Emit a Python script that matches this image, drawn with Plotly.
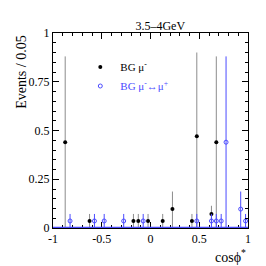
import plotly.graph_objects as go

# BG mu- (black)
bk_x = [-0.875, -0.625, -0.175, -0.125, -0.025, 0.125, 0.225, 0.425, 0.475, 0.625, 0.675]
bk_y = [0.44, 0.036, 0.036, 0.036, 0.036, 0.036, 0.097, 0.036, 0.47, 0.072, 0.44]
bk_eu = [0.44, 0.036, 0.036, 0.036, 0.036, 0.036, 0.09, 0.036, 0.43, 0.042, 0.44]
bk_ed = [0.44, 0.036, 0.036, 0.036, 0.036, 0.036, 0.097, 0.036, 0.47, 0.04, 0.44]

# BG mu- <-> mu+ (blue)
bl_x = [-0.825, -0.575, -0.475, -0.275, -0.075, 0.475, 0.625, 0.675, 0.725, 0.775, 0.925, 0.975]
bl_y = [0.036, 0.036, 0.036, 0.036, 0.036, 0.036, 0.036, 0.036, 0.036, 0.44, 0.097, 0.036]
bl_eu = [0.036, 0.036, 0.036, 0.036, 0.036, 0.036, 0.036, 0.036, 0.036, 0.44, 0.09, 0.036]
bl_ed = [0.036, 0.036, 0.036, 0.036, 0.036, 0.036, 0.036, 0.036, 0.036, 0.44, 0.097, 0.036]

x_ticks = [-1, -0.5, 0, 0.5, 1]
x_ticklabels = ["-1", "-0.5", "0", "0.5", "1"]
y_ticks = [0, 0.25, 0.5, 0.75, 1]
y_ticklabels = ["0", "0.25", "0.5", "0.75", "1"]

BLUE = "#4b4bff"
FONT = "Liberation Serif"

fig = go.Figure()
fig.add_trace(go.Scatter(
    x=bk_x, y=bk_y, mode="markers", name="BG μ<sup>-</sup>",
    marker=dict(symbol="circle", size=4, color="black"),
    error_y=dict(type="data", symmetric=False, array=bk_eu, arrayminus=bk_ed,
                 color="#8c8c8c", thickness=1, width=0),
))
fig.add_trace(go.Scatter(
    x=bl_x, y=bl_y, mode="markers",
    name="<span style='color:%s'>BG μ<sup>-</sup>↔μ<sup>+</sup></span>" % BLUE,
    marker=dict(symbol="circle-open", size=4, color=BLUE, line=dict(width=1)),
    error_y=dict(type="data", symmetric=False, array=bl_eu, arrayminus=bl_ed,
                 color=BLUE, thickness=1, width=0),
))

fig.add_shape(type="line", xref="x", yref="y", x0=-1, x1=1, y0=0.002, y1=0.002,
              line=dict(color=BLUE, width=1.5))

axis_common = dict(showline=True, linecolor="black", linewidth=1, mirror="allticks",
                   ticks="inside", tickcolor="black", showgrid=False, zeroline=False,
                   tickfont=dict(family=FONT, size=12, color="black"))

fig.update_xaxes(range=[-1, 1], tickvals=x_ticks, ticktext=x_ticklabels, ticklen=6,
                 minor=dict(dtick=0.1, ticks="inside", ticklen=3, tickcolor="black"),
                 **axis_common)
fig.update_yaxes(range=[0, 1], tickvals=y_ticks, ticktext=y_ticklabels, ticklen=6,
                 minor=dict(dtick=0.05, ticks="inside", ticklen=3, tickcolor="black"),
                 **axis_common)

# page body has an 8px margin, so the figure is 258x258 and offset by 8px
fig.update_layout(
    width=258, height=258,
    margin=dict(l=45, r=18, t=25, b=38),
    plot_bgcolor="white", paper_bgcolor="white",
    font=dict(family=FONT, size=12, color="black"),
    title=dict(text="3.5–4GeV", xref="paper", yref="paper", x=0.55, xanchor="center",
               y=1.0, yanchor="bottom", pad=dict(b=3),
               font=dict(family=FONT, size=12)),
    showlegend=True,
    legend=dict(x=0.14, y=0.90, xanchor="left", yanchor="top", bgcolor="rgba(0,0,0,0)",
                font=dict(family=FONT, size=11), itemwidth=30, tracegroupgap=2),
    annotations=[
        dict(text="Events / 0.05", textangle=-90, xref="paper", yref="paper",
             x=-0.165, y=1.0, xanchor="center", yanchor="top", showarrow=False,
             font=dict(family=FONT, size=14)),
        dict(text="cosϕ<sup>*</sup>", xref="paper", yref="paper",
             x=1.0, y=-0.144, xanchor="right", yanchor="middle", showarrow=False,
             font=dict(family=FONT, size=14)),
    ],
)

fig.write_html("out.html")
